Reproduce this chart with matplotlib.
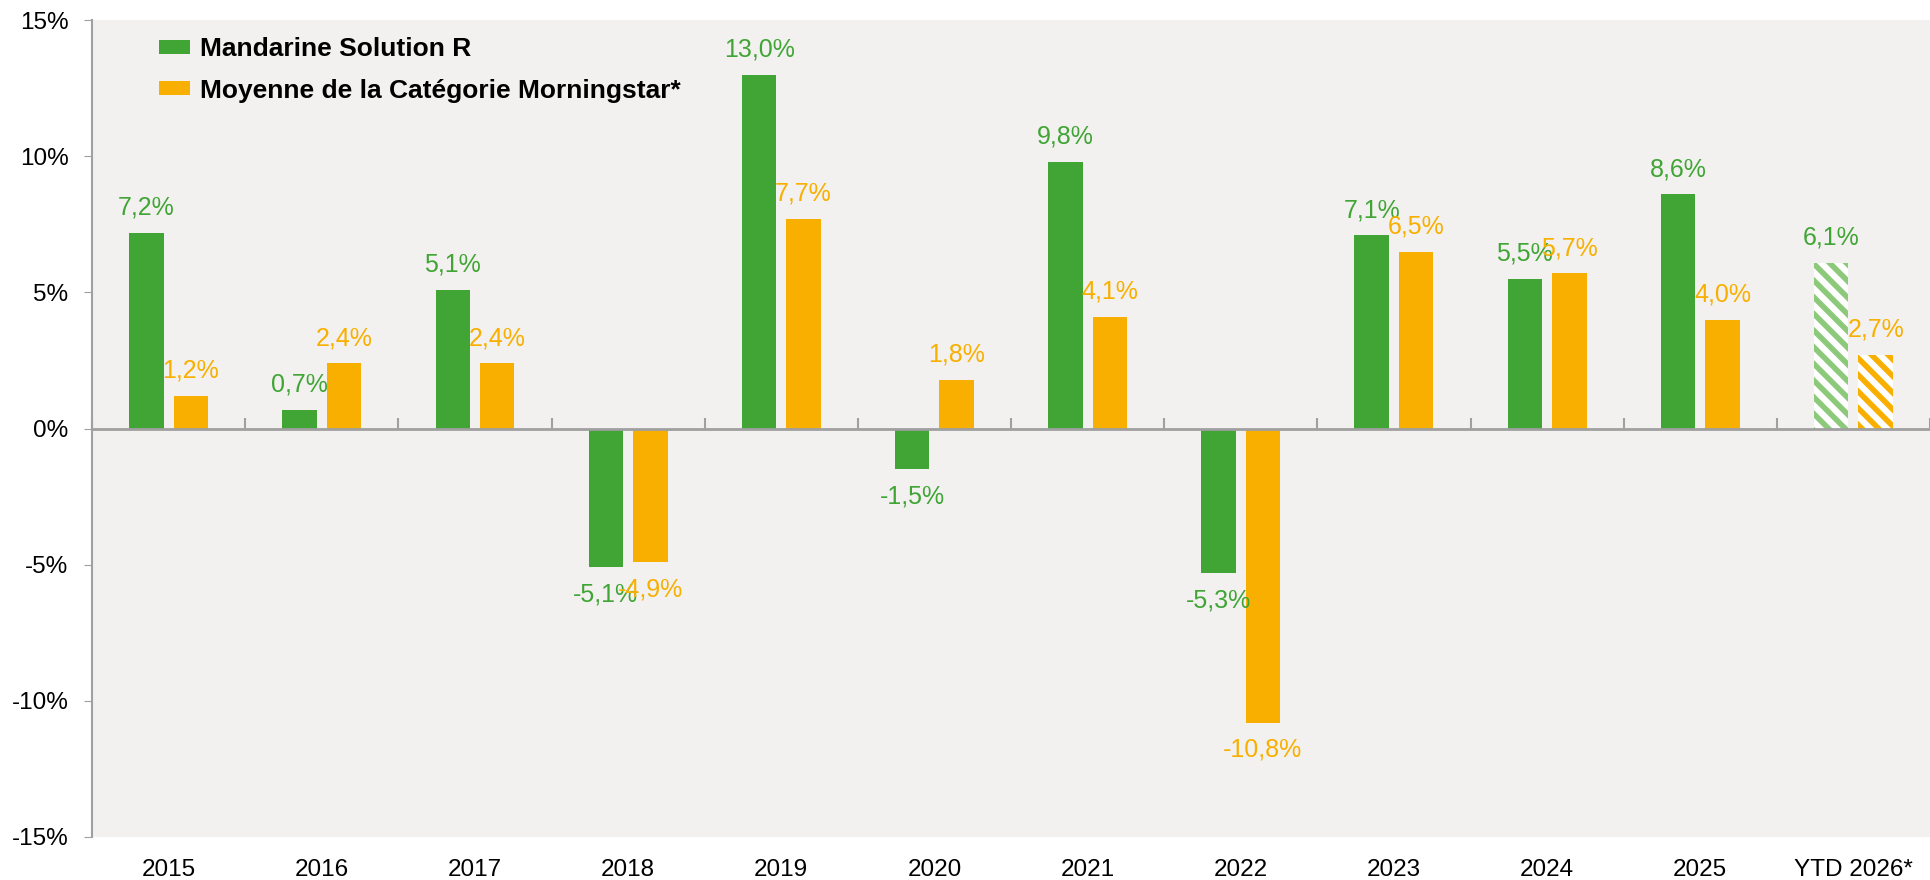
import matplotlib
import numpy as np
import matplotlib.pyplot as plt

matplotlib.use('agg')
plt.rcParams['font.family'] = ['Liberation Sans', 'DejaVu Sans']
plt.rcParams['hatch.linewidth'] = 4.0

years = ['2015', '2016', '2017', '2018', '2019', '2020', '2021', '2022',
         '2023', '2024', '2025', 'YTD 2026*']
fund = [7.2, 0.7, 5.1, -5.1, 13.0, -1.5, 9.8, -5.3, 7.1, 5.5, 8.6, 6.1]
category = [1.2, 2.4, 2.4, -4.9, 7.7, 1.8, 4.1, -10.8, 6.5, 5.7, 4.0, 2.7]
names = ['Mandarine Solution R', 'Moyenne de la Catégorie Morningstar*']

green = '#40a535'
green_light = '#8cc97a'
orange = '#f8af00'
grey = '#a0a0a0'

fig = plt.figure(figsize=(19.3, 8.8), dpi=100)
ax = fig.add_axes([0.0477, 0.049, 0.9523, 0.928])
ax.set_facecolor('#f2f1ef')

x = np.arange(len(years))
w = 0.225
off = 0.145
n = len(years) - 1  # last one is YTD (hatched)

ax.bar(x[:n] - off, fund[:n], w, color=green, label=names[0], zorder=2)
ax.bar(x[:n] + off, category[:n], w, color=orange, label=names[1], zorder=2)
ax.bar(x[n:] - off, fund[n:], w, color='white', edgecolor=green_light,
       hatch='\\\\', linewidth=0, zorder=2)
ax.bar(x[n:] + off, category[n:], w, color='white', edgecolor=orange,
       hatch='\\\\', linewidth=0, zorder=2)


def fmt(v):
    return ('%.1f%%' % v).replace('.', ',')


for i in range(len(years)):
    for v, dx, c in [(fund[i], -off, green), (category[i], off, orange)]:
        if v >= 0:
            ax.annotate(fmt(v), (x[i] + dx, v), xytext=(0, 9.5),
                        textcoords='offset points', ha='center', va='bottom',
                        color=c, fontsize=18, zorder=3)
        else:
            ax.annotate(fmt(v), (x[i] + dx, v), xytext=(0, -11),
                        textcoords='offset points', ha='center', va='top',
                        color=c, fontsize=18, zorder=3)

ax.set_xlim(-0.5, len(years) - 0.5)
ax.set_ylim(-15, 15)
ax.set_yticks(range(-15, 16, 5))
ax.set_yticklabels(['%d%%' % t for t in range(-15, 16, 5)], fontsize=17.5)
ax.set_xticks(x)
ax.set_xticklabels(years, fontsize=17.5)
ax.tick_params(axis='x', length=0, pad=16)
ax.tick_params(axis='y', length=6, color=grey, pad=11)

for s in ['top', 'right', 'bottom']:
    ax.spines[s].set_visible(False)
ax.spines['left'].set_color(grey)
ax.spines['left'].set_linewidth(1.5)

# zero line with ticks between categories
ax.axhline(0, color=grey, linewidth=2, zorder=4)
zero = ax.secondary_xaxis(0.5)
zero.set_xticks(np.arange(len(years) + 1) - 0.5)
zero.set_xticklabels([])
zero.tick_params(length=8, width=1.5, color=grey)
for s in zero.spines.values():
    s.set_visible(False)

leg = ax.legend(loc='upper left', bbox_to_anchor=(0.0237, 1.008), frameon=False,
                prop={'weight': 'bold', 'size': 19}, handlelength=1.15,
                handleheight=0.45, handletextpad=0.4, labelspacing=0.65)

plt.savefig('out.png', dpi=100)
plt.close('all')
